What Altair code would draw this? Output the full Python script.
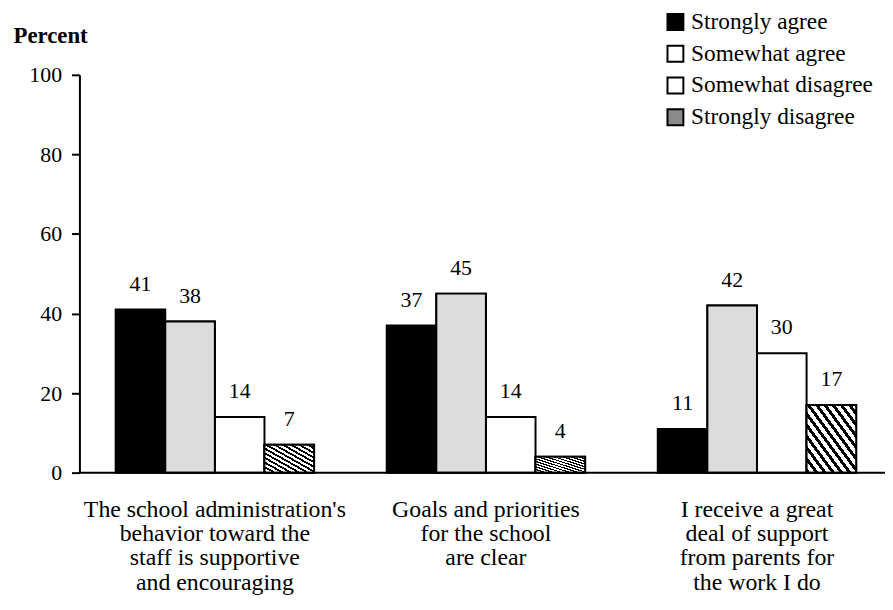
import altair as alt
import pandas as pd

categories = [
    "The school administration's|behavior toward the|staff is supportive|and encouraging",
    "Goals and priorities|for the school|are clear",
    "I receive a great|deal of support|from parents for|the work I do",
]
series = ["Strongly agree", "Somewhat agree", "Somewhat disagree", "Strongly disagree"]
strongly_agree = [41, 37, 11]
somewhat_agree = [38, 45, 42]
somewhat_disagree = [14, 14, 30]
strongly_disagree = [7, 4, 17]
y_ticks = [0, 20, 40, 60, 80, 100]

values_by_series = [strongly_agree, somewhat_agree, somewhat_disagree, strongly_disagree]
rows = []
for s, vals in zip(series, values_by_series):
    for c, v in zip(categories, vals):
        rows.append({"category": c, "series": s, "value": v})
df = pd.DataFrame(rows)

FONT = "Liberation Serif"

# diagonal hatch made from a hard-stop gradient
n_stripes = 12
stops = []
for i in range(n_stripes):
    a = i / n_stripes
    b = (i + 0.45) / n_stripes
    c = (i + 1) / n_stripes
    stops += [
        alt.GradientStop(color="black", offset=a),
        alt.GradientStop(color="black", offset=b),
        alt.GradientStop(color="white", offset=b),
        alt.GradientStop(color="white", offset=c),
    ]
hatch_fill = alt.LinearGradient(gradient="linear", stops=stops, x1=0, y1=1, x2=1, y2=0)

x_enc = alt.X(
    "category:N",
    sort=categories,
    scale=alt.Scale(paddingInner=0.268, paddingOuter=0.12, align=0.557),
    axis=alt.Axis(
        title=None,
        labelExpr="split(datum.label, '|')",
        domain=False,
        ticks=False,
        labelAngle=0,
        labelFont=FONT,
        labelFontSize=24,
        labelLineHeight=24.5,
        labelPadding=25,
        labelColor="black",
        labelBaseline="top",
        labelLimit=0,
    ),
)
xoff_enc = alt.XOffset("series:N", sort=series, scale=alt.Scale(paddingInner=0, paddingOuter=0))
y_enc = alt.Y(
    "value:Q",
    scale=alt.Scale(domain=[0, 100]),
    axis=alt.Axis(
        values=y_ticks,
        title="Percent",
        titleAngle=0,
        titleAlign="left",
        titleBaseline="middle",
        titleX=-67,
        titleY=-40,
        titleFont=FONT,
        titleFontWeight="bold",
        titleFontSize=23,
        titleColor="black",
        grid=False,
        domainColor="black",
        domainWidth=2,
        tickColor="black",
        tickWidth=2,
        tickSize=8,
        labelPadding=10,
        labelFont=FONT,
        labelFontSize=22,
        labelColor="black",
    ),
)

base = alt.Chart(df).encode(x=x_enc, xOffset=xoff_enc, y=y_enc)

bars = base.mark_bar(stroke="black", strokeWidth=2).encode(
    color=alt.Color(
        "series:N",
        sort=series,
        scale=alt.Scale(domain=series, range=["black", "white", "white", "#8a8a8a"]),
        legend=alt.Legend(
            title=None,
            orient="none",
            legendX=589,
            legendY=-65,
            symbolType="square",
            symbolSize=256,
            symbolStrokeColor="black",
            symbolStrokeWidth=2,
            symbolOpacity=1,
            labelFont=FONT,
            labelFontSize=23.5,
            labelColor="black",
            labelLimit=0,
            rowPadding=7,
            labelOffset=4,
            padding=0,
        ),
    )
)

stipple = base.transform_filter(alt.datum.series == "Somewhat agree").mark_bar(
    fill="#dcdcdc", stroke="black", strokeWidth=2
)
hatch = base.transform_filter(alt.datum.series == "Strongly disagree").mark_bar(
    fill=hatch_fill, stroke="black", strokeWidth=2
)
labels = base.mark_text(baseline="alphabetic", dy=-19, font=FONT, fontSize=22, color="black").encode(
    text="value:Q"
)
baseline = alt.Chart(pd.DataFrame({"v": [0]})).mark_rule(color="black", strokeWidth=2).encode(
    y=alt.Y("v:Q")
)

chart = (
    alt.layer(bars, stipple, hatch, baseline, labels)
    .properties(
        width=812,
        height=401,
        autosize=alt.AutoSizeParams(type="none"),
        padding={"left": 72, "top": 65, "right": 0, "bottom": 126},
    )
    .configure_view(stroke=None)
)

chart.save("out.html", embed_options={"renderer": "svg", "actions": False})
